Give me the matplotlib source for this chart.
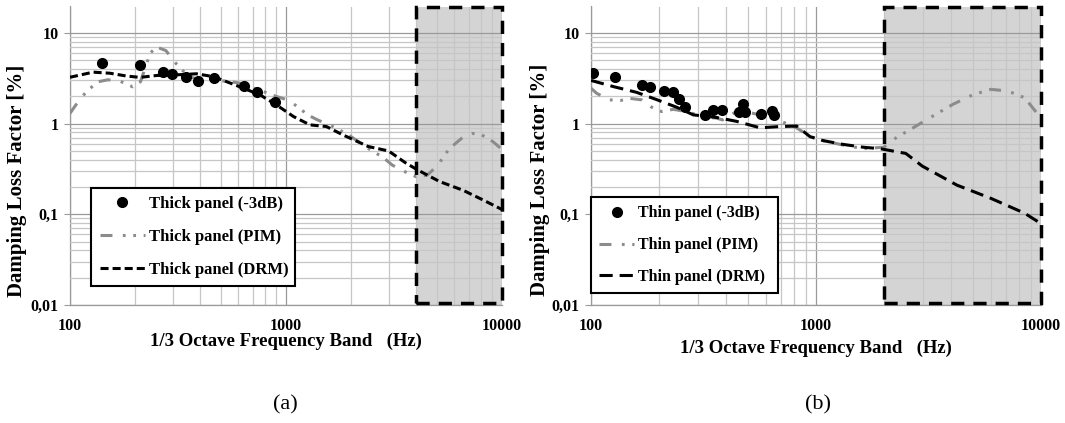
import matplotlib
matplotlib.use("Agg")
import matplotlib.pyplot as plt
from matplotlib.patches import Rectangle
from matplotlib.ticker import FixedLocator, FixedFormatter, LogLocator, NullFormatter

# ---------------- data ----------------
thick_pts_f = [141, 211, 270, 297, 343, 391, 464, 640, 733, 887]
thick_pts_v = [4.7, 4.45, 3.76, 3.54, 3.26, 2.97, 3.2, 2.57, 2.21, 1.73]

thick_pim_f = [100, 110, 120, 135, 150, 170, 195, 212, 235, 252, 278, 305, 330, 360, 400,
               470, 530, 610, 700, 790, 900, 1000, 1120, 1260, 1400, 1700, 2000, 2500, 2800,
               3100, 3500, 4000, 4500, 5000, 5700, 6600, 7300, 8000, 9100, 10000]
thick_pim_v = [1.3, 1.8, 2.3, 2.9, 3.05, 2.95, 2.55, 2.9, 6.0, 7.0, 6.4, 4.8, 3.9, 3.3, 3.0,
               3.0, 2.95, 2.8, 2.5, 2.25, 2.0, 1.85, 1.57, 1.25, 1.1, 0.9, 0.72, 0.5, 0.43,
               0.35, 0.3, 0.26, 0.27, 0.34, 0.53, 0.71, 0.78, 0.76, 0.63, 0.52]

thick_drm_f = [100, 128, 153, 183, 211, 252, 301, 385, 461, 532, 635, 760, 907, 1082, 1290,
               1537, 1838, 2190, 2400, 2985, 3575, 4056, 5140, 6610, 8220, 10000]
thick_drm_v = [3.25, 3.7, 3.6, 3.35, 3.24, 3.4, 3.44, 3.55, 3.3, 2.9, 2.46, 2.07, 1.6, 1.2, 0.97,
               0.93, 0.75, 0.62, 0.56, 0.5, 0.37, 0.31, 0.23, 0.184, 0.143, 0.113]

thin_pts_f = [102, 128, 168, 182, 211, 232, 247, 263, 322, 347, 384, 455, 474, 485, 571, 638, 648]
thin_pts_v = [3.6, 3.28, 2.65, 2.55, 2.32, 2.22, 1.86, 1.53, 1.24, 1.42, 1.43, 1.35, 1.63, 1.34,
              1.28, 1.37, 1.24]

thin_pim_f = [100, 106, 121, 135, 149, 168, 186, 206, 232, 270, 310, 362, 384, 420, 452, 564,
              625, 740, 820, 940, 1076, 1324, 1620, 2000, 2290, 2600, 3090, 4070, 5020, 5990,
              7130, 8460, 10000]
thin_pim_v = [2.46, 2.16, 1.83, 1.8, 1.9, 1.83, 1.52, 1.36, 1.44, 1.35, 1.2, 1.15, 1.1, 1.25,
              1.41, 1.25, 1.2, 1.0, 0.9, 0.72, 0.65, 0.58, 0.53, 0.55, 0.71, 0.85, 1.1, 1.64,
              2.1, 2.39, 2.29, 1.93, 1.15]

thin_drm_f = [100, 126, 159, 196, 240, 285, 362, 444, 564, 693, 821, 940, 1076, 1324, 1620,
              1925, 2505, 2970, 4230, 5990, 8450, 10000]
thin_drm_v = [3.0, 2.56, 2.22, 1.84, 1.52, 1.25, 1.17, 1.06, 0.9, 0.93, 0.94, 0.72, 0.65, 0.59,
              0.55, 0.53, 0.47, 0.34, 0.21, 0.15, 0.103, 0.079]

shade_start = [4000, 2000]
labels_thick = ["Thick panel (-3dB)", "Thick panel (PIM)", "Thick panel (DRM)"]
labels_thin = ["Thin panel (-3dB)", "Thin panel (PIM)", "Thin panel (DRM)"]
ytick_vals = [0.01, 0.1, 1, 10]
ytick_labels = ["0,01", "0,1", "1", "10"]
xtick_vals = [100, 1000, 10000]
xtick_labels = ["100", "1000", "10000"]
panel_tags = ["(a)", "(b)"]
xlabel = "1/3 Octave Frequency Band   (Hz)"
ylabel = "Damping Loss Factor [%]"

# ---------------- style ----------------
plt.rcParams["lines.scale_dashes"] = False
SERIF = ["Liberation Serif", "DejaVu Serif"]
PIM_COLOR = "#8c8c8c"
YTOP = 19.6

fig = plt.figure(figsize=(10.65, 4.23), dpi=100)
ax_l = fig.add_axes([70 / 1065, 1 - 305 / 423, 432 / 1065, 298.5 / 423])
ax_r = fig.add_axes([591 / 1065, 1 - 305 / 423, 450 / 1065, 298.5 / 423])


def style_axes(ax, tag, tag_x, xl_y, yl_x, yl_y):
    ax.set_xscale("log")
    ax.set_yscale("log")
    ax.set_xlim(100, 10000)
    ax.set_ylim(0.01, YTOP)
    ax.xaxis.set_major_locator(FixedLocator(xtick_vals))
    ax.xaxis.set_major_formatter(FixedFormatter(xtick_labels))
    ax.yaxis.set_major_locator(FixedLocator(ytick_vals))
    ax.yaxis.set_major_formatter(FixedFormatter(ytick_labels))
    ax.xaxis.set_minor_locator(LogLocator(base=10, subs=range(2, 10), numticks=20))
    ax.yaxis.set_minor_locator(LogLocator(base=10, subs=range(2, 10), numticks=20))
    ax.xaxis.set_minor_formatter(NullFormatter())
    ax.yaxis.set_minor_formatter(NullFormatter())
    ax.grid(True, which="major", color="#9a9a9a", lw=0.9)
    ax.grid(True, which="minor", color="#c6c6c6", lw=0.9)
    ax.set_axisbelow(False)
    for s in ["top", "right"]:
        ax.spines[s].set_visible(False)
    for s in ["left", "bottom"]:
        ax.spines[s].set_color("#9a9a9a")
        ax.spines[s].set_linewidth(0.9)
    ax.tick_params(axis="y", which="major", length=4, color="#9a9a9a", pad=4)
    ax.tick_params(axis="x", which="major", length=0, pad=9)
    ax.tick_params(which="minor", length=0)
    for lab in ax.get_xticklabels() + ax.get_yticklabels():
        lab.set_fontfamily(SERIF)
        lab.set_fontweight("bold")
        lab.set_fontsize(11.5)
    ax.set_xlabel(xlabel, family=SERIF, fontweight="bold", fontsize=13.5)
    ax.set_ylabel(ylabel, family=SERIF, fontweight="bold", fontsize=15)
    ax.xaxis.set_label_coords(0.5, xl_y)
    ax.yaxis.set_label_coords(yl_x, yl_y)
    fig.text(tag_x, 1 - 405 / 423, tag, family=SERIF, fontsize=16, ha="center", va="center")


def shade(ax, x0):
    ax.add_patch(Rectangle((x0, 0.01), 10000 - x0, YTOP - 0.01, facecolor="#d4d4d4",
                           edgecolor="none", zorder=0.2))
    ax.add_patch(Rectangle((x0, 0.0104), 10000 - x0, YTOP * 0.985 - 0.0104, facecolor="none",
                           edgecolor="black", lw=2.5, linestyle=(0, (9.5, 6.5)),
                           zorder=5, clip_on=False))


def add_legend(ax, bbox, fs, hl):
    leg = ax.legend(loc="lower left", bbox_to_anchor=bbox, mode="expand",
                    prop={"family": SERIF, "weight": "bold", "size": fs}, frameon=True,
                    fancybox=False, framealpha=1, edgecolor="black", handlelength=hl,
                    labelspacing=1.0, borderaxespad=0, borderpad=0.5, handletextpad=0.25)
    leg.get_frame().set_linewidth(1.5)
    leg.set_zorder(6)


# ---------------- left panel ----------------
style_axes(ax_l, panel_tags[0], 285 / 1065, -0.092, -0.10, 0.415)
shade(ax_l, shade_start[0])
ax_l.plot(thick_pts_f, thick_pts_v, "o", color="black", ms=7, zorder=4, label=labels_thick[0])
ax_l.plot(thick_pim_f, thick_pim_v, color=PIM_COLOR, lw=2.2,
          linestyle=(0, (8.6, 7.5, 2, 5.5, 2, 5.5)), zorder=3, label=labels_thick[1])
ax_l.plot(thick_drm_f, thick_drm_v, color="black", lw=2.2,
          linestyle=(0, (5.8, 2.9)), zorder=3.5, label=labels_thick[2])
add_legend(ax_l, (0.049, 0.064, 0.471, 0.331), 12, 2.7)

# ---------------- right panel ----------------
style_axes(ax_r, panel_tags[1], 818 / 1065, -0.115, -0.091, 0.42)
shade(ax_r, shade_start[1])
ax_r.plot(thin_pts_f, thin_pts_v, "o", color="black", ms=7, zorder=4, label=labels_thin[0])
ax_r.plot(thin_pim_f, thin_pim_v, color=PIM_COLOR, lw=2.2,
          linestyle=(0, (8.6, 7.5, 2, 5.5, 2, 5.5)), zorder=3, label=labels_thin[1])
ax_r.plot(thin_drm_f, thin_drm_v, color="black", lw=2.2,
          linestyle=(0, (9.5, 5)), zorder=3.5, label=labels_thin[2])
add_legend(ax_r, (0.0, 0.04, 0.415, 0.325), 11.5, 2.2)

fig.savefig("out.png", dpi=100)
